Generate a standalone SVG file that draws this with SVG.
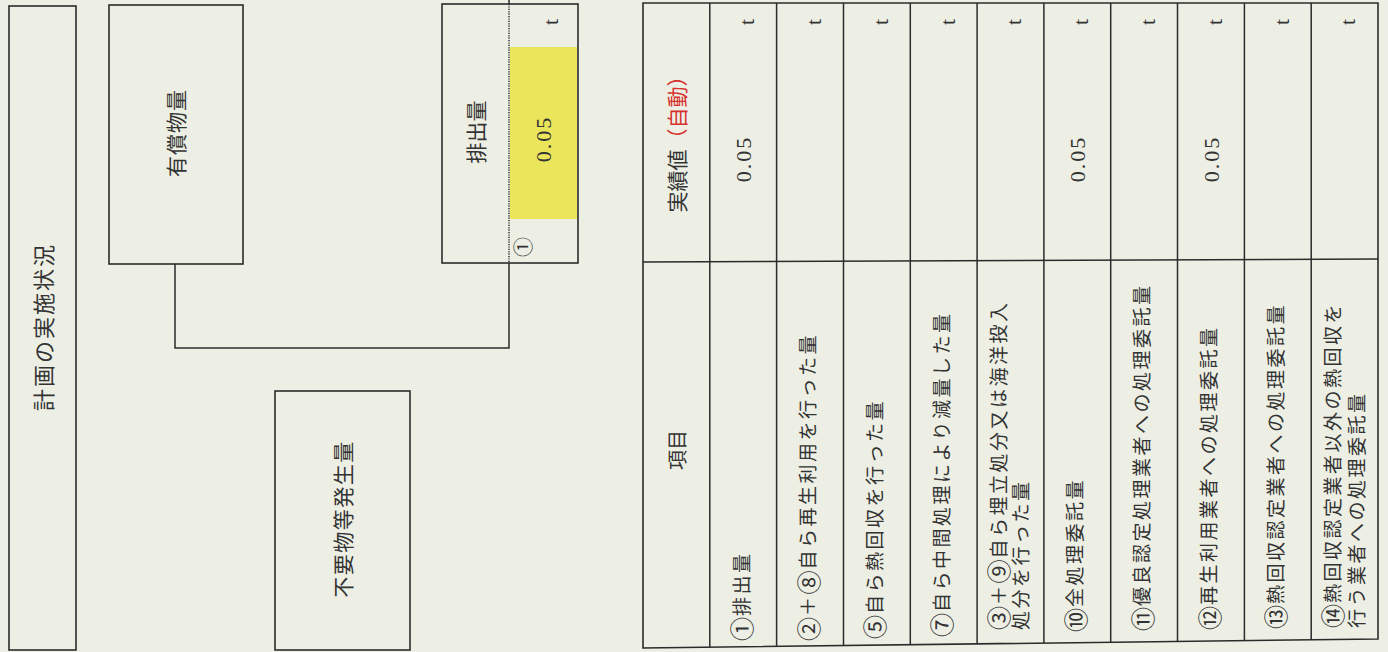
<svg xmlns="http://www.w3.org/2000/svg" width="1388" height="652" viewBox="0 0 1388 652">
<style>
.bg{fill:#edefe5}
.box{fill:none;stroke:#2b2b2b;stroke-width:1.6}
.ln{fill:none;stroke:#2b2b2b;stroke-width:1.5}
.dot{fill:none;stroke:#2b2b2b;stroke-width:1.5;stroke-dasharray:1.2 1.2}
.jp{font-family:"Noto Sans CJK JP","Noto Sans CJK SC",sans-serif;fill:#333;dominant-baseline:central}
.lbl{font-size:19px;letter-spacing:2.5px}
.c{font-size:24px;letter-spacing:1px}
.num{font-family:"Liberation Serif",serif;fill:#333;dominant-baseline:central}
.red{fill:#d6322d}
</style>
<rect class="bg" x="0" y="0" width="1388" height="652"/>

<g id="node-plan">
<rect class="box" x="9" y="6" width="67" height="644"/>
<text class="jp" transform="translate(42,327) rotate(-90)" text-anchor="middle" font-size="22" letter-spacing="2">計画の実施状況</text>
</g>

<g id="node-valuable">
<rect class="box" x="109" y="5" width="134" height="259"/>
<text class="jp" transform="translate(175,133) rotate(-90)" text-anchor="middle" font-size="21" letter-spacing="1">有償物量</text>
</g>

<g id="node-unneeded">
<rect class="box" x="275" y="391" width="135" height="259"/>
<text class="jp" transform="translate(342,519) rotate(-90)" text-anchor="middle" font-size="21" letter-spacing="1.5">不要物等発生量</text>
</g>

<g id="node-emission">
<rect class="box" x="442" y="4" width="136" height="259"/>
<rect x="510" y="47" width="67" height="172" fill="#ebe55c"/>
<text class="jp" transform="translate(475,132) rotate(-90)" text-anchor="middle" font-size="21">排出量</text>
<text class="num" transform="translate(543.5,139) rotate(-90)" text-anchor="middle" font-size="22" letter-spacing="2">0.05</text>
<text class="num" transform="translate(550,22) rotate(-90)" text-anchor="middle" font-size="22">t</text>
<text class="jp" transform="translate(522,247) rotate(-90)" text-anchor="middle" font-size="20">①</text>
</g>

<g id="connectors">
<path class="ln" d="M175,264 V348 H509 V263"/>
<path class="ln" d="M509,0 V4"/>
<path class="dot" d="M509,4 V263"/>
</g>

<g id="table">
<path class="box" d="M643,3 H1378 V639 L643,648 Z"/>
<path class="ln" d="M643,262 L1378,259"/>
<path class="ln" d="M709.8,3 V647.2 M776.6,3 V646.4 M843.5,3 V645.5 M910.3,3 V644.7 M977.1,3 V643.9 M1043.9,3 V643.1 M1110.7,3 V642.3 M1177.5,3 V641.5 M1244.4,3 V640.6 M1311.2,3 V639.8"/>

<g id="header">
<text class="jp" transform="translate(676.4,139) rotate(-90)" text-anchor="middle" font-size="21">実績値<tspan class="red">（自動）</tspan></text>
<text class="jp" transform="translate(676.4,450) rotate(-90)" text-anchor="middle" font-size="20">項目</text>
</g>

<g id="units">
<text class="num" transform="translate(746,22) rotate(-90)" text-anchor="middle" font-size="22">t</text>
<text class="num" transform="translate(813,22) rotate(-90)" text-anchor="middle" font-size="22">t</text>
<text class="num" transform="translate(880,22) rotate(-90)" text-anchor="middle" font-size="22">t</text>
<text class="num" transform="translate(947,22) rotate(-90)" text-anchor="middle" font-size="22">t</text>
<text class="num" transform="translate(1013,22) rotate(-90)" text-anchor="middle" font-size="22">t</text>
<text class="num" transform="translate(1080,22) rotate(-90)" text-anchor="middle" font-size="22">t</text>
<text class="num" transform="translate(1147,22) rotate(-90)" text-anchor="middle" font-size="22">t</text>
<text class="num" transform="translate(1214,22) rotate(-90)" text-anchor="middle" font-size="22">t</text>
<text class="num" transform="translate(1281,22) rotate(-90)" text-anchor="middle" font-size="22">t</text>
<text class="num" transform="translate(1347,22) rotate(-90)" text-anchor="middle" font-size="22">t</text>
</g>

<g id="values">
<text class="num" transform="translate(743.2,159) rotate(-90)" text-anchor="middle" font-size="22" letter-spacing="2">0.05</text>
<text class="num" transform="translate(1077.3,159) rotate(-90)" text-anchor="middle" font-size="22" letter-spacing="2">0.05</text>
<text class="num" transform="translate(1211,159) rotate(-90)" text-anchor="middle" font-size="22" letter-spacing="2">0.05</text>
</g>

<g id="row-labels">
<text class="jp lbl" transform="translate(740,641) rotate(-90)"><tspan class="c">①</tspan>排出量</text>
<text class="jp lbl" transform="translate(806.6,641) rotate(-90)"><tspan class="c">②</tspan>＋<tspan class="c">⑧</tspan>自ら再生利用を行った量</text>
<text class="jp lbl" transform="translate(873.4,639) rotate(-90)"><tspan class="c">⑤</tspan>自ら熱回収を行った量</text>
<text class="jp lbl" transform="translate(940.2,637) rotate(-90)"><tspan class="c">⑦</tspan>自ら中間処理により減量した量</text>
<text class="jp lbl" transform="translate(997,630) rotate(-90)"><tspan class="c">③</tspan>＋<tspan class="c">⑨</tspan>自ら埋立処分又は海洋投入</text>
<text class="jp lbl" transform="translate(1019,630) rotate(-90)">処分を行った量</text>
<text class="jp lbl" transform="translate(1073.8,632) rotate(-90)"><tspan class="c">⑩</tspan>全処理委託量</text>
<text class="jp lbl" transform="translate(1140.6,631) rotate(-90)"><tspan class="c">⑪</tspan>優良認定処理業者への処理委託量</text>
<text class="jp lbl" transform="translate(1207.5,630) rotate(-90)"><tspan class="c">⑫</tspan>再生利用業者への処理委託量</text>
<text class="jp lbl" transform="translate(1274.3,629) rotate(-90)"><tspan class="c">⑬</tspan>熱回収認定業者への処理委託量</text>
<text class="jp lbl" transform="translate(1331,628) rotate(-90)"><tspan class="c">⑭</tspan>熱回収認定業者以外の熱回収を</text>
<text class="jp lbl" transform="translate(1355,628) rotate(-90)">行う業者への処理委託量</text>
</g>
</g>
</svg>
